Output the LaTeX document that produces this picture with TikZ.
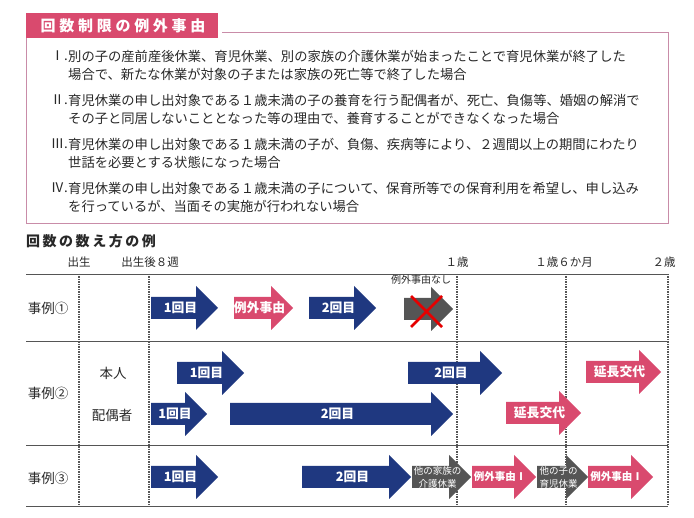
\documentclass[tikz,border=0pt]{standalone}
\usepackage{fontspec}
\setmainfont{Noto Sans CJK JP}
\usepackage{tikz}
\usetikzlibrary{positioning, calc}
\definecolor{exnavy}{RGB}{31, 56, 128}
\definecolor{expink}{RGB}{217, 74, 110}
\definecolor{exgray}{RGB}{85, 85, 85}
\definecolor{boxrose}{RGB}{201, 140, 168}
\definecolor{textdark}{RGB}{40, 40, 40}
\tikzset{
    rowline/.style={draw=exgray, line width=0.9pt},
    tickline/.style={draw=exgray, line width=1.2pt, dash pattern=on 1.2pt off 1.3pt},
    arrowtext/.style={text=white, inner sep=0pt, align=center, font=\fontsize{12.8}{13}\selectfont\bfseries},
    midtext/.style={text=white, inner sep=0pt, align=center, font=\fontsize{10.5}{11}\selectfont\bfseries},
    smalltext/.style={text=white, inner sep=0pt, align=center, font=\fontsize{9.5}{13}\selectfont},
    itemtext/.style={anchor=west, align=left, inner sep=0pt, text=textdark, font=\fontsize{13.3}{18}\selectfont},
    itemnum/.style={anchor=east, inner sep=0pt, text=textdark, font=\fontsize{13.3}{18}\selectfont}
}
% block arrow: [text style]{name}{colour}{x start}{x tip}{y centre}{text}
\newcommand{\blockarrow}[7][arrowtext]{%
    \fill[#3] (#4,#6-11) -- (#5-22,#6-11) -- (#5-22,#6-22) -- (#5,#6)
        -- (#5-22,#6+22) -- (#5-22,#6+11) -- (#4,#6+11) -- cycle;
    \node[#1] (#2) at ({(#4+#5)/2-4},#6) {#7};}

\begin{document}
\begin{tikzpicture}[
    x=1pt, y=-1pt,
    axislabel/.style={inner sep=0pt, text=textdark, font=\fontsize{11.5}{12}\selectfont},
    rowlabel/.style={inner sep=0pt, text=textdark, font=\fontsize{13.5}{14}\selectfont},
    cross/.style={draw=red!90!black, line width=2.6pt}
]
    \useasboundingbox (0,0) rectangle (694,518);

    % exceptions box
    \fill[expink] (26,13) rectangle (218,38);
    \node[text=white, inner sep=0pt, font=\fontsize{15}{15}\selectfont\bfseries\addfontfeature{LetterSpace=25}] (title) at (123,25.5) {回数制限の例外事由};
    \draw[boxrose, line width=0.8pt] (222,32) -- (668,32) -- (668,223) -- (26,223) -- (26,38);

    \node[itemnum] (num1) at (68,56) {Ⅰ.};
    \node[itemtext] (item1) at (68,65) {別の子の産前産後休業、育児休業、別の家族の介護休業が始まったことで育児休業が終了した\\場合で、新たな休業が対象の子または家族の死亡等で終了した場合};
    \node[itemnum] (num2) at (68,100) {Ⅱ.};
    \node[itemtext] (item2) at (68,109) {育児休業の申し出対象である１歳未満の子の養育を行う配偶者が、死亡、負傷等、婚姻の解消で\\その子と同居しないこととなった等の理由で、養育することができなくなった場合};
    \node[itemnum] (num3) at (68,144) {Ⅲ.};
    \node[itemtext] (item3) at (68,153) {育児休業の申し出対象である１歳未満の子が、負傷、疾病等により、２週間以上の期間にわたり\\世話を必要とする状態になった場合};
    \node[itemnum] (num4) at (68,188) {Ⅳ.};
    \node[itemtext] (item4) at (68,197) {育児休業の申し出対象である１歳未満の子について、保育所等での保育利用を希望し、申し込み\\を行っているが、当面その実施が行われない場合};

    % counting examples
    \node[anchor=west, inner sep=0pt, text=textdark, font=\fontsize{14}{14}\selectfont\bfseries\addfontfeature{LetterSpace=18}] (howto) at (26,241) {回数の数え方の例};

    \node[axislabel] (birth) at (79,262) {出生};
    \node[axislabel] (week8) at (150,262) {出生後８週};
    \node[axislabel] (age1) at (457,262) {１歳};
    \node[axislabel] (age1h) at (564,262) {１歳６か月};
    \node[axislabel] (age2) at (664,262) {２歳};

    \foreach \y in {274,341,445,506}
        \draw[rowline] (26,\y) -- (668,\y);
    \foreach \x in {79,149,457,566,668}
        \draw[tickline] (\x,274) -- (\x,506);

    \node[rowlabel] (case1) at (48,308) {事例①};
    \node[rowlabel] (case2) at (48,393) {事例②};
    \node[rowlabel] (case3) at (48,478) {事例③};
    \node[rowlabel] (self) at (113,373) {本人};
    \node[rowlabel] (spouse) at (112,415) {配偶者};

    % case 1
    \blockarrow{c1first}{exnavy}{151}{218}{308}{1回目}
    \blockarrow{c1except}{expink}{234}{293}{308}{例外事由}
    \blockarrow{c1second}{exnavy}{309}{376}{308}{2回目}
    \blockarrow{c1none}{exgray}{404}{453}{309}{}
    \draw[cross] (411,296) -- (442,327);
    \draw[cross] (411,327) -- (442,296);
    \node[inner sep=0pt, text=textdark, font=\fontsize{10}{10}\selectfont] (noreason) at (421,280) {例外事由なし};

    % case 2
    \blockarrow{c2selfa}{exnavy}{177}{244}{373}{1回目}
    \blockarrow{c2selfb}{exnavy}{408}{502}{373}{2回目}
    \blockarrow{c2selfc}{expink}{586}{661}{372}{延長交代}
    \blockarrow{c2spousea}{exnavy}{151}{207}{414}{1回目}
    \blockarrow{c2spouseb}{exnavy}{230}{453}{414}{2回目}
    \blockarrow{c2spousec}{expink}{506}{581}{413}{延長交代}

    % case 3
    \blockarrow{c3first}{exnavy}{151}{218}{477}{1回目}
    \blockarrow{c3second}{exnavy}{302}{411}{477}{2回目}
    \blockarrow[smalltext]{c3care}{exgray}{412}{471}{477}{他の家族の\\介護休業}
    \blockarrow[midtext]{c3excepta}{expink}{472}{536}{477}{例外事由Ⅰ}
    \blockarrow[smalltext]{c3child}{exgray}{537}{588}{477}{他の子の\\育児休業}
    \blockarrow[midtext]{c3exceptb}{expink}{588}{653}{477}{例外事由Ⅰ}

\end{tikzpicture}
\end{document}
